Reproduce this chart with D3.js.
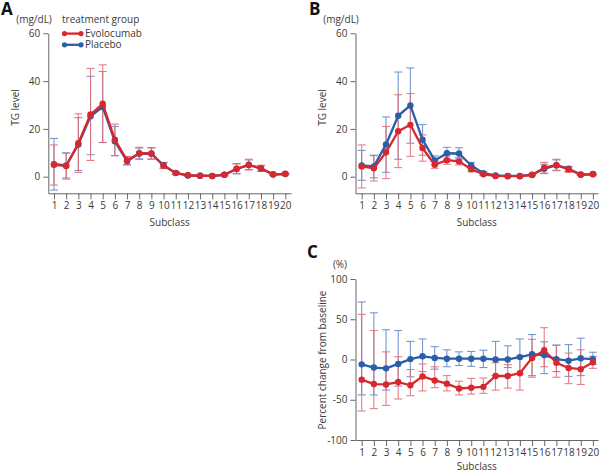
<!DOCTYPE html>
<html><head><meta charset="utf-8">
<script src="https://cdn.jsdelivr.net/npm/d3@7"></script>
<style>
body{margin:0;background:#fff;}
svg{display:block;font-family:"Open Sans",sans-serif;}
</style></head>
<body><svg id="chart" width="600" height="472"></svg>
<script>
const subclass = [1,2,3,4,5,6,7,8,9,10,11,12,13,14,15,16,17,18,19,20];
const tgTicks = [0,20,40,60];
const pctTicks = [-100,-50,0,50,100];

// Panel A
const A_evo_mean  = [5.0,4.5,14.0,26.0,30.5,15.5,6.8,9.8,9.7,4.6,1.6,0.6,0.4,0.3,0.8,3.3,5.0,3.5,1.0,1.2];
const A_evo_upper = [13.3,9.8,26.3,45.3,46.8,22.0,8.5,12.3,12.0,5.8,2.2,0.9,0.6,0.5,1.2,5.3,7.3,4.8,1.3,1.5];
const A_evo_lower = [-3.5,-0.5,1.8,6.8,14.3,8.8,4.9,7.3,7.4,3.4,1.0,0.3,0.2,0.1,0.4,1.3,2.8,2.2,0.7,0.9];
const A_pla_mean  = [5.2,4.7,13.5,25.3,29.2,14.8,6.5,9.7,9.6,4.8,1.5,0.5,0.4,0.3,0.8,3.2,4.9,3.4,0.9,1.1];
const A_pla_upper = [16.0,10.0,24.7,42.0,44.0,21.0,8.3,12.0,12.2,6.0,2.1,0.8,0.6,0.5,1.2,5.5,7.0,4.6,1.2,1.4];
const A_pla_lower = [-5.6,-1.0,2.6,9.2,14.3,8.8,5.0,7.4,7.3,3.6,0.9,0.2,0.2,0.1,0.4,1.2,3.0,2.2,0.6,0.8];

// Panel B
const B_evo_mean  = [4.3,3.5,10.2,19.0,21.7,12.0,5.0,6.9,6.4,3.1,1.0,0.3,0.2,0.2,0.7,3.8,4.8,3.1,0.8,1.0];
const B_evo_upper = [13.3,8.8,21.0,34.3,34.8,17.5,6.5,8.6,8.0,4.2,1.5,0.5,0.4,0.4,1.0,6.0,7.3,4.3,1.1,1.3];
const B_evo_lower = [-4.7,-1.8,-0.8,3.8,8.5,6.5,3.5,5.2,4.9,2.1,0.5,0.1,0.0,0.0,0.4,1.5,2.5,1.8,0.5,0.7];
const B_pla_mean  = [4.7,4.3,13.5,25.5,29.8,15.5,6.8,9.8,9.7,4.7,1.5,0.5,0.3,0.3,0.8,3.3,4.8,3.3,0.9,1.1];
const B_pla_upper = [11.0,9.0,25.0,43.8,45.5,21.8,8.7,12.3,12.1,6.0,2.2,0.8,0.5,0.5,1.2,5.2,7.0,4.2,1.2,1.4];
const B_pla_lower = [-1.5,-0.5,1.8,7.3,14.0,9.0,5.0,7.4,7.4,3.5,0.8,0.2,0.1,0.1,0.4,1.3,2.7,2.2,0.6,0.8];

// Panel C
const C_evo_mean  = [-25,-30.5,-31,-28,-32,-21,-26,-30,-36,-35,-34,-20.5,-20.5,-17,2,11.5,-4,-10.5,-12,-3.5];
const C_evo_upper = [56,36,9.5,3.5,-12.5,-5.5,-9,-20,-27,-23.5,-23,-4,-6.5,4.5,25,39.5,17.5,8,12,4];
const C_evo_lower = [-64,-61,-57,-49,-45,-39,-35,-39,-44,-43,-42,-38,-35.5,-38,-22,-9,-22,-30,-31,-11];
const C_pla_mean  = [-6,-10,-11,-5.5,0.5,4,2,1,1,1,1,0,0,3,6.5,5.5,0.5,-1.5,1.5,0.5];
const C_pla_upper = [71.5,58,37,36,22.5,25.5,16,12,9.5,10,11.5,22.5,17,25.5,31,22,18,18.5,26.5,9];
const C_pla_lower = [-44,-44,-38,-33,-21.5,-15,-12,-9,-7.5,-8.5,-10,-20,-10,-18,-20,-17.5,-15,-21,-20,-6];

const RED = "#d7282f", BLUE = "#2a5ea9";
const RED_ERR = "#e46a72", BLUE_ERR = "#5f88c6";
const AXIS = "#666", TXT = "#3a3a3a";

const svg = d3.select("#chart");

function panel(cfg){
  const g = svg.append("g");
  const x = d3.scaleLinear().domain(cfg.xDomain).range(cfg.xRange);
  const y = d3.scaleLinear().domain(cfg.yDomain).range(cfg.yRange);
  const x0 = cfg.xRange[0], yb = cfg.yRange[0];

  const xa = g.append("g").attr("transform",`translate(0,${yb})`)
    .call(d3.axisBottom(x).tickValues(subclass).tickSize(6).tickPadding(3).tickSizeOuter(0));
  const ya = g.append("g").attr("transform",`translate(${x0},0)`)
    .call(d3.axisLeft(y).tickValues(cfg.yTicks).tickFormat(d=>String(d)).tickSize(5).tickPadding(3).tickSizeOuter(0));
  [xa,ya].forEach(a=>{
    a.selectAll("path,line").attr("stroke",AXIS).attr("stroke-width",1);
    a.selectAll("text").attr("fill",TXT).style("font-size","10px").style("font-family","Open Sans");
  });

  function errs(mean, up, lo, col){
    const eg = g.append("g").attr("stroke",col).attr("stroke-width",1.1).attr("opacity",0.85);
    subclass.forEach((s,i)=>{
      const cx = x(s);
      eg.append("line").attr("x1",cx).attr("x2",cx).attr("y1",y(up[i])).attr("y2",y(lo[i]));
      eg.append("line").attr("x1",cx-4).attr("x2",cx+4).attr("y1",y(up[i])).attr("y2",y(up[i]));
      eg.append("line").attr("x1",cx-4).attr("x2",cx+4).attr("y1",y(lo[i])).attr("y2",y(lo[i]));
    });
  }
  function series(mean, col){
    const line = d3.line().x((d,i)=>x(subclass[i])).y(d=>y(d));
    g.append("path").datum(mean).attr("d",line).attr("fill","none")
      .attr("stroke",col).attr("stroke-width",2.3).attr("stroke-linejoin","round");
    g.append("g").selectAll("circle").data(mean).join("circle")
      .attr("cx",(d,i)=>x(subclass[i])).attr("cy",d=>y(d)).attr("r",3.2).attr("fill",col);
  }
  errs(cfg.pla[0],cfg.pla[1],cfg.pla[2],BLUE_ERR);
  errs(cfg.evo[0],cfg.evo[1],cfg.evo[2],RED_ERR);
  series(cfg.pla[0],BLUE);
  series(cfg.evo[0],RED);

  // labels
  g.append("text").attr("x",cfg.letter[0]).attr("y",cfg.letter[1]).text(cfg.letterText)
    .attr("font-weight","bold").style("font-size","17px").attr("fill","#111");
  g.append("text").attr("x",cfg.unit[0]).attr("y",cfg.unit[1]).attr("text-anchor","middle")
    .text(cfg.unitText).style("font-size","10px").attr("fill",TXT);
  g.append("text").attr("transform",`translate(${cfg.ylab[0]},${cfg.ylab[1]}) rotate(-90)`)
    .attr("text-anchor","middle").text(cfg.ylabText).style("font-size","10px").attr("fill",TXT);
  g.append("text").attr("x",(cfg.xRange[0]+cfg.xRange[1])/2).attr("y",cfg.xlabY).attr("text-anchor","middle")
    .text("Subclass").style("font-size","10px").attr("fill",TXT);
  return g;
}

panel({
  xDomain:[0.532,20.468], xRange:[48.3,291],
  yDomain:[-6.95,60], yRange:[193.3,33.3], yTicks:tgTicks,
  evo:[A_evo_mean,A_evo_upper,A_evo_lower], pla:[A_pla_mean,A_pla_upper,A_pla_lower],
  letter:[1,14.5], letterText:"A", unit:[34,23], unitText:"(mg/dL)",
  ylab:[19,107.5], ylabText:"TG level", xlabY:226
});
panel({
  xDomain:[0.491,20.419], xRange:[355.5,598],
  yDomain:[-6.95,60], yRange:[193.3,33.3], yTicks:tgTicks,
  evo:[B_evo_mean,B_evo_upper,B_evo_lower], pla:[B_pla_mean,B_pla_upper,B_pla_lower],
  letter:[309,14.5], letterText:"B", unit:[341,23], unitText:"(mg/dL)",
  ylab:[326,107.5], ylabText:"TG level", xlabY:226
});
panel({
  xDomain:[0.491,20.419], xRange:[355.5,598],
  yDomain:[-100,100], yRange:[440,279], yTicks:pctTicks,
  evo:[C_evo_mean,C_evo_upper,C_evo_lower], pla:[C_pla_mean,C_pla_upper,C_pla_lower],
  letter:[307,258], letterText:"C", unit:[340,268], unitText:"(%)",
  ylab:[326,360], ylabText:"Percent change from baseline", xlabY:470
});

// Legend in panel A
const leg = svg.append("g");
leg.append("text").attr("x",62).attr("y",23).text("treatment group").style("font-size","10px").attr("fill",TXT);
[["Evolocumab",RED,33.6],["Placebo",BLUE,44.8]].forEach(([name,col,ly])=>{
  leg.append("line").attr("x1",64).attr("x2",81.5).attr("y1",ly).attr("y2",ly).attr("stroke",col).attr("stroke-width",2.3);
  leg.append("circle").attr("cx",64.5).attr("cy",ly).attr("r",2.6).attr("fill",col);
  leg.append("circle").attr("cx",81).attr("cy",ly).attr("r",2.6).attr("fill",col);
  leg.append("text").attr("x",85).attr("y",ly+3.5).text(name).style("font-size","10px").attr("fill",TXT);
});
</script></body></html>
